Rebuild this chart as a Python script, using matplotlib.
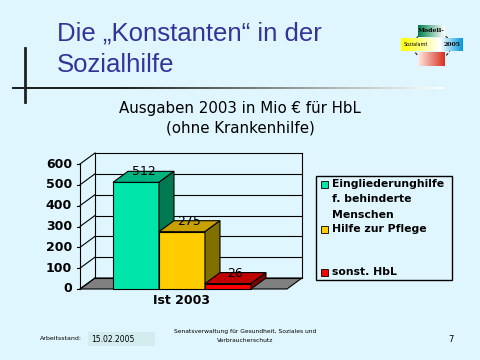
import numpy as np
import matplotlib.pyplot as plt
from matplotlib.patches import Polygon, Rectangle, Ellipse
from matplotlib.colors import to_rgb

# Daten
kategorien = ["Eingliederunghilfe\nf. behinderte\nMenschen", "Hilfe zur Pflege", "sonst. HbL"]
werte = [512, 275, 26]
farben_vorne = ["#00E6AA", "#FFCC00", "#FF0000"]
farben_oben = ["#00B482", "#C8A000", "#C00000"]
farben_seite = ["#007850", "#807000", "#800000"]
y_ticks = [0, 100, 200, 300, 400, 500, 600]
x_label = "Ist 2003"

BG = "#E0F6FE"
fig = plt.figure(figsize=(4.8, 3.6), dpi=100, facecolor=BG)

# Deko-Achse in Pixeln (Folienlayout)
deco = fig.add_axes([0, 0, 1, 1])
deco.axis("off")
deco.patch.set_alpha(0)

# Folientitel
deco.text(57, 40, "Die „Konstanten“ in der", color="#333399", fontsize=18.5,
          family="Liberation Sans", va="baseline")
deco.text(57, 72, "Sozialhilfe", color="#333399", fontsize=18.5,
          family="Liberation Sans", va="baseline")

def grad(c1, c2, n=40, pos=None):
    a, b = np.array(to_rgb(c1)), np.array(to_rgb(c2))
    return np.linspace(a, b, n)[None, :, :]

# Linien
tt = np.clip((np.linspace(12, 444, 200) - 120) / 324, 0, 1)
linie = (0.12 + 0.88 * tt)[None, :, None] * np.ones((1, 1, 3))
deco.imshow(linie, extent=(12, 444, 89, 87), aspect="auto", zorder=1)
deco.plot([25, 25], [48, 102], color="#202020", lw=2, zorder=2)

# Logo
deco.add_patch(Ellipse((432, 46), 38, 28, fill=False, ls=(0, (3, 2)), lw=0.7, color="black", zorder=0))
deco.imshow(grad("#00804A", "#FFFFFF"), extent=(418, 445, 37, 25), aspect="auto", zorder=1)
deco.imshow(grad("#FFFF00", "#FFFFFF"), extent=(401, 440, 51, 38), aspect="auto", zorder=1)
deco.imshow(grad("#FFFFFF", "#0099DD"), extent=(440, 463, 51, 38), aspect="auto", zorder=1)
deco.imshow(grad("#FFE8E0", "#D83020"), extent=(418, 445, 66, 52), aspect="auto", zorder=1)
deco.text(431, 31, "Modell-", fontsize=4.5, family="DejaVu Serif", weight="bold", ha="center", va="center", zorder=3)
deco.text(416, 45, "Sozialamt", fontsize=3.5, ha="center", va="center", zorder=3)
deco.text(452, 45, "2005", fontsize=4.5, family="DejaVu Serif", weight="bold", ha="center", va="center", zorder=3)

# Diagrammtitel
deco.text(240, 109, "Ausgaben 2003 in Mio € für HbL", fontsize=10.8, ha="center", va="center")
deco.text(240, 128, "(ohne Krankenhilfe)", fontsize=10.8, ha="center", va="center")

# Legende
deco.add_patch(Rectangle((316, 176), 136, 104, fill=False, ec="black", lw=1))
leg_y = [184, 229, 272]
for lab, col, y in zip(kategorien, farben_vorne, leg_y):
    deco.add_patch(Rectangle((321, y - 3.5), 7, 7, fc=col, ec="black", lw=0.6))
    for k, zeile in enumerate(lab.split("\n")):
        deco.text(332, y + k * 15.5, zeile, fontsize=7.8, weight="bold", va="center")

# Fußzeile
deco.text(40, 339, "Arbeitsstand:", fontsize=4.5, va="center")
deco.add_patch(Rectangle((88, 332), 67, 14, fc="#D3ECEF", ec="none"))
deco.text(91, 339, "15.02.2005", fontsize=5.5, va="center")
deco.text(245, 331, "Senatsverwaltung für Gesundheit, Soziales und", fontsize=4.3, ha="center", va="center")
deco.text(245, 341, "Verbraucherschutz", fontsize=4.3, ha="center", va="center")
deco.text(448, 339, "7", fontsize=6, va="center")

deco.set_xlim(0, 480)
deco.set_ylim(360, 0)

# 3D-Säulendiagramm
ax = fig.add_axes([80 / 480, 71 / 360, 207 / 480, 125 / 360])
x0, x1 = -1.217, 3.283
ax.set_xlim(x0, x1)
ax.set_ylim(0, 600)
ax.axis("off")
ax.patch.set_alpha(0)
DX = 15 / 46
DY = 11 * 600 / 125
kw = dict(color="black", lw=0.8, clip_on=False)

for tk in y_ticks:
    ax.plot([x0 + DX, x1 + DX], [tk + DY, tk + DY], **kw)
    ax.plot([x0, x0 + DX], [tk, tk + DY], **kw)
    ax.plot([x0 - 0.07, x0], [tk, tk], **kw)
    ax.text(x0 - 0.17, tk, str(tk), ha="right", va="center", fontsize=9, weight="bold")
ax.plot([x0 + DX] * 2, [DY, y_ticks[-1] + DY], **kw)
ax.plot([x1 + DX] * 2, [DY, y_ticks[-1] + DY], **kw)
ax.plot([x0, x0], [0, y_ticks[-1]], **kw)

ax.add_patch(Polygon([(x0, 0), (x0 + DX, DY), (x1 + DX, DY), (x1, 0)],
                     fc="#808080", ec="black", lw=0.8, clip_on=False))

for i, v in enumerate(werte):
    l, r = i - 0.5, i + 0.5
    z = 3 + i
    ax.bar(i, v, width=1, color=farben_vorne[i], edgecolor="black", lw=0.8, zorder=z, clip_on=False)
    ax.add_patch(Polygon([(l, v), (l + DX, v + DY), (r + DX, v + DY), (r, v)],
                         fc=farben_oben[i], ec="black", lw=0.8, zorder=z, clip_on=False))
    ax.add_patch(Polygon([(r, 0), (r + DX, DY), (r + DX, v + DY), (r, v)],
                         fc=farben_seite[i], ec="black", lw=0.8, zorder=z, clip_on=False))
    ax.text(i + DX / 2, v + 50, str(v), ha="center", va="center", fontsize=9, zorder=10)

ax.text(1, -55, x_label, ha="center", va="center", fontsize=9, weight="bold")

fig.savefig("out.png", dpi=100, facecolor=BG)
